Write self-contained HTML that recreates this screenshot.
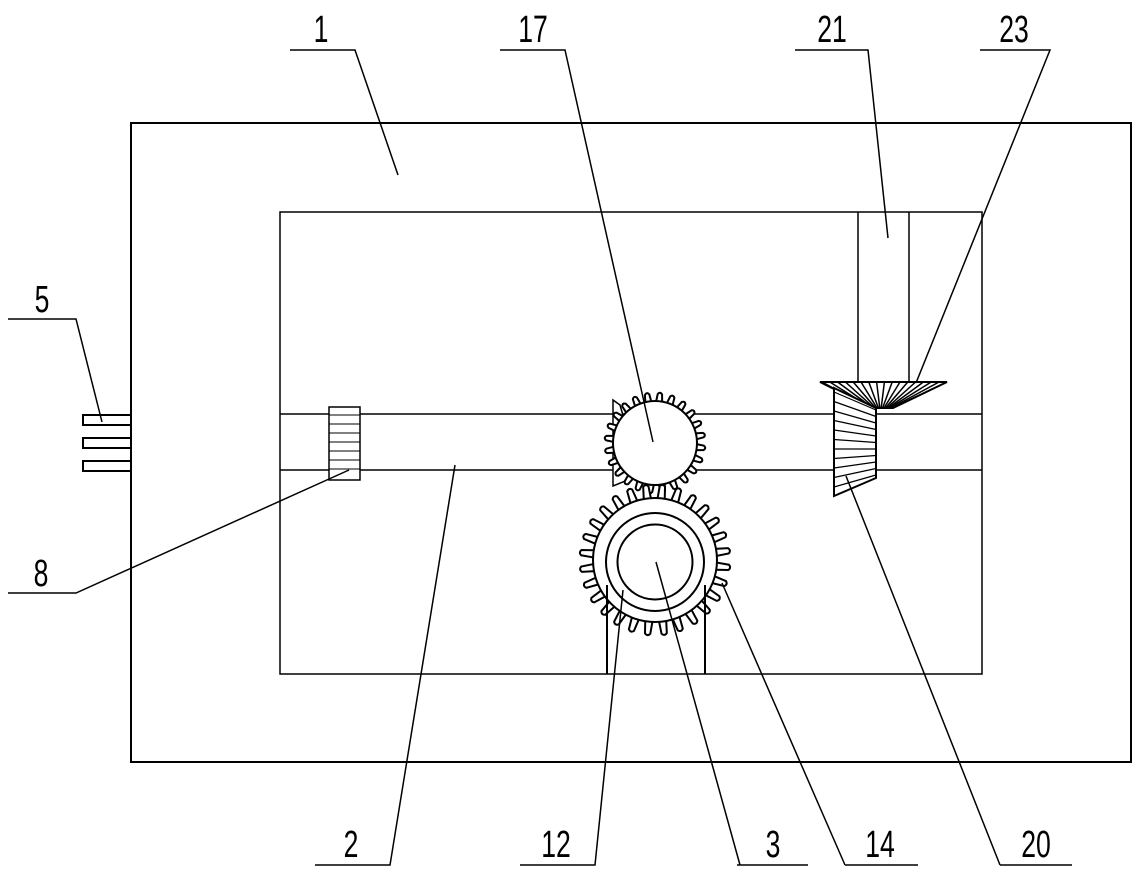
<!DOCTYPE html>
<html><head><style>body{margin:0;background:#fff}svg{display:block}text{font-family:"Liberation Sans",sans-serif;font-size:38px;fill:#000;text-anchor:middle}</style></head>
<body>
<svg id="s" width="1142" height="880" viewBox="0 0 1142 880" xmlns="http://www.w3.org/2000/svg" fill="none" stroke="#000" stroke-width="1.5">
<rect x="131" y="123" width="1000" height="639" stroke-width="2"/>
<rect x="280" y="212" width="702" height="462"/>
<line x1="280" y1="414" x2="982" y2="414"/>
<line x1="280" y1="470" x2="982" y2="470"/>
<path d="M130 415H83V425H130M130 438H83V448H130M130 461H83V471H130" stroke-width="2"/>
<rect x="329" y="407" width="31" height="73" fill="#fff"/>
<path d="M329 415H360M329 424H360M329 433H360M329 442H360M329 451H360M329 460H360M329 469H360" stroke-width="1"/>
<path d="M858 212V382M909 212V382" stroke-width="1.5"/>
<path d="M820 382H947L893 408H872Z" fill="#fff" stroke-width="2"/>
<g id="cone" stroke-width="1.5"></g>
<path d="M834 388L876 408V478L834 496Z" fill="#fff" stroke-width="2"/>
<g id="bev" stroke-width="1.2"></g>
<path d="M613 400V486L640 475L620 405Z" fill="#fff"/>
<g id="g17"></g>
<circle cx="655" cy="443" r="42" fill="#fff" stroke-width="2"/>
<g id="g14"></g>
<circle cx="655" cy="560" r="62" fill="#fff" stroke-width="2"/>
<circle cx="655" cy="562" r="49" stroke-width="2"/>
<circle cx="655" cy="562" r="37.5" stroke-width="2"/>
<path d="M607 585V674M705 585V674" stroke-width="2"/>
<g stroke-width="1.5">
<path d="M8 319H76L102 422"/>
<path d="M8 593H76L349 470"/>
<path d="M290 50H355L398 175"/>
<path d="M500 50H565L653 442"/>
<path d="M795 50H868L888 238"/>
<path d="M980 50H1050L916 383"/>
<path d="M315 865H390L455 465"/>
<path d="M520 865H595L623 590"/>
<path d="M737 865H808M740 865L656 562"/>
<path d="M845 865H918M845 865L722 583"/>
<path d="M1000 865H1072M1000 865L846 476"/>
</g>
<g stroke="none" id="tx">
<text x="321" y="42">1</text>
<text x="533" y="42">17</text>
<text x="832" y="42">21</text>
<text x="1014" y="42">23</text>
<text x="42" y="312">5</text>
<text x="41" y="586">8</text>
<text x="351" y="857">2</text>
<text x="556" y="857">12</text>
<text x="773" y="857">3</text>
<text x="880" y="857">14</text>
<text x="1036" y="857">20</text>
</g>
</svg>
<script>
var NS="http://www.w3.org/2000/svg";
function el(p,t,a){var e=document.createElementNS(NS,t);for(var k in a)e.setAttribute(k,a[k]);document.getElementById(p).appendChild(e);}
function gear(id,cx,cy,r,n,h,w){for(var i=0;i<n;i++){var a=i*2*Math.PI/n+0.1,a1=a-w,a2=a+w;
var p=[cx+r*Math.cos(a1),cy+r*Math.sin(a1),cx+(r+h)*Math.cos(a-w*0.6),cy+(r+h)*Math.sin(a-w*0.6),cx+(r+h)*Math.cos(a+w*0.6),cy+(r+h)*Math.sin(a+w*0.6),cx+r*Math.cos(a2),cy+r*Math.sin(a2)];
el(id,"path",{d:"M"+p[0]+" "+p[1]+"L"+p[2]+" "+p[3]+"Q"+(cx+(r+h+3)*Math.cos(a))+" "+(cy+(r+h+3)*Math.sin(a))+" "+p[4]+" "+p[5]+"L"+p[6]+" "+p[7],"stroke-width":"2",fill:"#fff"});}}
gear("g17",655,443,41,24,8,0.075);
gear("g14",655,560,61,28,13,0.06);
for(var i=0;i<=16;i++){var x=822+i*7.8;el("cone","line",{x1:x,y1:382,x2:870+i*1.4,y2:408});}
for(var i=0;i<11;i++){var y1=392+i*9.5,y2=410+i*6.5;el("bev","line",{x1:834,y1:y1,x2:876,y2:y2});}
var ts=document.querySelectorAll("#tx text");for(var i=0;i<ts.length;i++){var x=+ts[i].getAttribute("x");ts[i].setAttribute("transform","translate("+x+",0) scale(0.7,1) translate("+(-x)+",0)");}
</script>
</body></html>
